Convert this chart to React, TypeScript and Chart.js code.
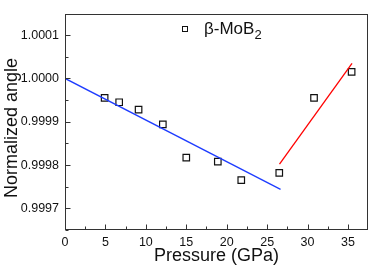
import React, { useEffect, useRef } from "react";
import { Chart, registerables } from "chart.js";

Chart.register(...registerables);

// ---- data ----
const pressure = [4.9, 6.7, 9.1, 12.1, 15.0, 18.9, 21.8, 26.5, 30.8, 35.45];
const angle = [0.999955, 0.999945, 0.999928, 0.999894, 0.999817, 0.999808, 0.999765, 0.999782, 0.999955, 1.000015];
const blueFitX = [0, 26.66];
const blueFitY = [1.0, 0.999744];
const redFitX = [26.53, 35.5];
const redFitY = [0.999802, 1.000035];
const xTicks = [0, 5, 10, 15, 20, 25, 30, 35];
const xMinorTicks = [2.5, 7.5, 12.5, 17.5, 22.5, 27.5, 32.5];
const yTicks = [0.9997, 0.9998, 0.9999, 1.0, 1.0001];
const yMinorTicks = [0.99965, 0.99975, 0.99985, 0.99995, 1.00005];
const legendLabel = "β-MoB";
const legendSub = "2";
const xTitle = "Pressure (GPa)";
const yTitle = "Normalized angle";

const FONT = "'Liberation Sans', Arial, sans-serif";

const framePlugin = {
  id: "framePlugin",
  afterDraw(chart: any) {
    const { ctx, chartArea } = chart;
    const xs = chart.scales.x;
    const ys = chart.scales.y;
    const L = Math.round(chartArea.left) + 0.5;
    const R = Math.round(chartArea.right) - 0.5;
    const T = Math.round(chartArea.top) + 0.5;
    const B = Math.round(chartArea.bottom) - 0.5;
    ctx.save();
    ctx.strokeStyle = "#333";
    ctx.lineWidth = 1;
    ctx.strokeRect(L, T, R - L, B - T);
    ctx.beginPath();
    xTicks.forEach((v) => {
      const px = Math.round(xs.getPixelForValue(v)) + 0.5;
      ctx.moveTo(px, B);
      ctx.lineTo(px, B - 5);
    });
    xMinorTicks.forEach((v) => {
      const px = Math.round(xs.getPixelForValue(v)) + 0.5;
      ctx.moveTo(px, B);
      ctx.lineTo(px, B - 3);
    });
    yTicks.forEach((v) => {
      const py = Math.round(ys.getPixelForValue(v)) + 0.5;
      ctx.moveTo(L, py);
      ctx.lineTo(L + 5, py);
    });
    yMinorTicks.forEach((v) => {
      const py = Math.round(ys.getPixelForValue(v)) + 0.5;
      ctx.moveTo(L, py);
      ctx.lineTo(L + 3, py);
    });
    ctx.stroke();

    // y title
    ctx.fillStyle = "#111";
    ctx.font = `18px ${FONT}`;
    ctx.translate(17, 128);
    ctx.rotate(-Math.PI / 2);
    ctx.textAlign = "center";
    ctx.textBaseline = "alphabetic";
    ctx.fillText(yTitle, 0, 0);
    ctx.restore();

    // legend
    ctx.save();
    ctx.strokeStyle = "#111";
    ctx.lineWidth = 1;
    ctx.strokeRect(182.5, 26.5, 5, 5);
    ctx.fillStyle = "#111";
    ctx.font = `17px ${FONT}`;
    ctx.textBaseline = "alphabetic";
    ctx.textAlign = "left";
    ctx.fillText(legendLabel, 204, 34);
    const w = ctx.measureText(legendLabel).width;
    ctx.font = `13px ${FONT}`;
    ctx.fillText(legendSub, 204 + w, 39);
    ctx.restore();
  },
};

export default function App() {
  const ref = useRef<HTMLCanvasElement | null>(null);
  useEffect(() => {
    if (!ref.current) return;
    const chart = new Chart(ref.current, {
      type: "scatter",
      data: {
        datasets: [
          {
            label: "blue fit",
            data: blueFitX.map((x, i) => ({ x, y: blueFitY[i] })),
            showLine: true,
            borderColor: "rgb(30,60,255)",
            borderWidth: 1.3,
            pointRadius: 0,
          },
          {
            label: "red fit",
            data: redFitX.map((x, i) => ({ x, y: redFitY[i] })),
            showLine: true,
            borderColor: "rgb(255,0,0)",
            borderWidth: 1.3,
            pointRadius: 0,
          },
          {
            label: "β-MoB2",
            data: pressure.map((x, i) => ({ x, y: angle[i] })),
            showLine: false,
            pointStyle: "rect",
            pointRadius: 4.6,
            borderColor: "#111",
            borderWidth: 1.2,
            backgroundColor: "rgba(255,255,255,0)",
          },
        ],
      },
      options: {
        responsive: false,
        animation: false,
        layout: { padding: { top: 2, right: 2, left: 0, bottom: 0 } },
        plugins: { legend: { display: false }, tooltip: { enabled: false } },
        scales: {
          x: {
            type: "linear",
            min: 0,
            max: 37.5,
            grid: { display: false, drawTicks: false },
            border: { display: false },
            afterBuildTicks: (s: any) => {
              s.ticks = xTicks.map((v) => ({ value: v }));
            },
            afterFit: (s: any) => {
              s.height = 37;
            },
            ticks: {
              padding: 5,
              color: "#111",
              font: { family: FONT, size: 12.5 },
              maxRotation: 0,
              callback: (v: any) => String(v),
            },
            title: {
              display: true,
              text: xTitle,
              color: "#111",
              font: { family: FONT, size: 18 },
              padding: { top: 0, bottom: 0 },
            },
          },
          y: {
            type: "linear",
            min: 0.99965,
            max: 1.00015,
            grid: { display: false, drawTicks: false },
            border: { display: false },
            afterBuildTicks: (s: any) => {
              s.ticks = yTicks.map((v) => ({ value: v }));
            },
            afterFit: (s: any) => {
              s.width = 65;
            },
            ticks: {
              padding: 6,
              color: "#111",
              font: { family: FONT, size: 12.5 },
              callback: (v: any) => Number(v).toFixed(4),
            },
          },
        },
      },
      plugins: [framePlugin],
    });
    return () => chart.destroy();
  }, []);
  return (
    <div style={{ position: "absolute", left: 0, top: 0, width: 374, height: 267, background: "#fff" }}>
      <canvas ref={ref} width={374} height={267} />
    </div>
  );
}
